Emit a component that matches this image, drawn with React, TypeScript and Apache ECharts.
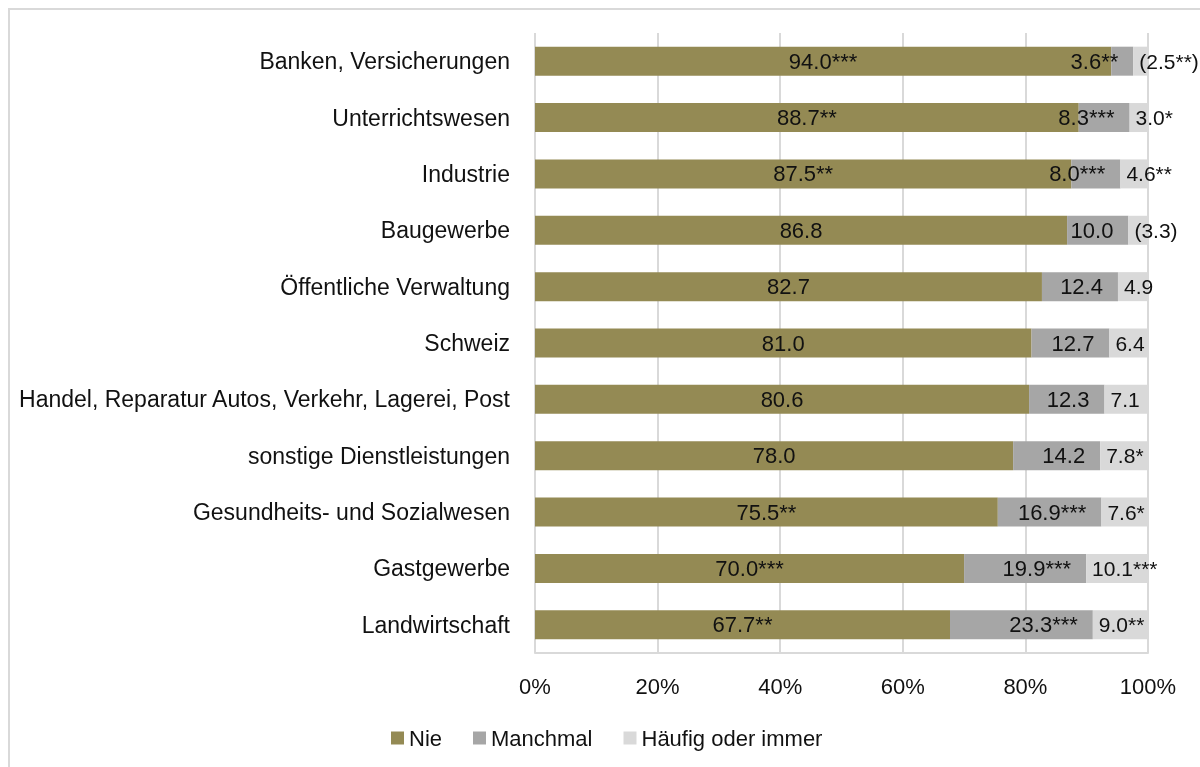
import React, { useEffect, useRef } from "react";
import * as echarts from "echarts";

const categories = [
  "Banken, Versicherungen",
  "Unterrichtswesen",
  "Industrie",
  "Baugewerbe",
  "Öffentliche Verwaltung",
  "Schweiz",
  "Handel, Reparatur Autos, Verkehr, Lagerei, Post",
  "sonstige Dienstleistungen",
  "Gesundheits- und Sozialwesen",
  "Gastgewerbe",
  "Landwirtschaft",
];

const nieValues = [94.0, 88.7, 87.5, 86.8, 82.7, 81.0, 80.6, 78.0, 75.5, 70.0, 67.7];
const manchmalValues = [3.6, 8.3, 8.0, 10.0, 12.4, 12.7, 12.3, 14.2, 16.9, 19.9, 23.3];
const haeufigValues = [2.5, 3.0, 4.6, 3.3, 4.9, 6.4, 7.1, 7.8, 7.6, 10.1, 9.0];

const nieLabels = ["94.0***", "88.7**", "87.5**", "86.8", "82.7", "81.0", "80.6", "78.0", "75.5**", "70.0***", "67.7**"];
const manchmalLabels = ["3.6**", "8.3***", "8.0***", "10.0", "12.4", "12.7", "12.3", "14.2", "16.9***", "19.9***", "23.3***"];
const haeufigLabels = ["(2.5**)", "3.0*", "4.6**", "(3.3)", "4.9", "6.4", "7.1", "7.8*", "7.6*", "10.1***", "9.0**"];

const tickValues = [0, 20, 40, 60, 80, 100];

const FONT = "'Liberation Sans', Arial, sans-serif";

export default function App() {
  const ref = useRef<HTMLDivElement>(null);

  useEffect(() => {
    if (!ref.current) return;
    const chart = echarts.init(ref.current, undefined, { renderer: "svg" });
    const labelStyle = {
      show: true,
      fontFamily: FONT,
      fontSize: 22,
      color: "#111",
    };
    chart.setOption({
      animation: false,
      textStyle: { fontFamily: FONT },
      legend: {
        data: ["Nie", "Manchmal", "Häufig oder immer"],
        left: 376,
        top: 712,
        itemWidth: 13,
        itemHeight: 13,
        itemGap: 31,
        icon: "rect",
        textStyle: { fontFamily: FONT, fontSize: 22, color: "#111" },
      },
      grid: { left: 525, right: 52, top: 23, bottom: 114, containLabel: false },
      xAxis: {
        type: "value",
        min: tickValues[0],
        max: tickValues[tickValues.length - 1],
        interval: 20,
        axisLine: { show: true, lineStyle: { color: "#d9d9d9", width: 2 } },
        axisTick: { show: false },
        splitLine: { show: true, lineStyle: { color: "#d9d9d9", width: 2 } },
        axisLabel: {
          formatter: (v: number) => `${v}%`,
          fontFamily: FONT,
          fontSize: 22,
          color: "#111",
          margin: 22,
        },
      },
      yAxis: {
        type: "category",
        data: categories,
        inverse: true,
        axisLine: { show: false },
        axisTick: { show: false },
        axisLabel: { fontFamily: FONT, fontSize: 23, color: "#111", margin: 25 },
      },
      series: [
        {
          name: "Nie",
          type: "bar",
          stack: "total",
          barWidth: 29,
          data: nieValues,
          itemStyle: { color: "#948A54" },
          label: { ...labelStyle, position: "inside", formatter: (p: any) => nieLabels[p.dataIndex] },
        },
        {
          name: "Manchmal",
          type: "bar",
          stack: "total",
          barWidth: 29,
          data: manchmalValues,
          itemStyle: { color: "#A6A6A6" },
          label: {
            ...labelStyle,
            position: "insideRight",
            distance: 15,
            formatter: (p: any) => manchmalLabels[p.dataIndex],
          },
        },
        {
          name: "Häufig oder immer",
          type: "bar",
          stack: "total",
          barWidth: 29,
          data: haeufigValues,
          itemStyle: { color: "#D9D9D9" },
          label: {
            ...labelStyle,
            fontSize: 21,
            position: "insideLeft",
            distance: 6,
            formatter: (p: any) => haeufigLabels[p.dataIndex],
          },
        },
      ],
    });
    return () => chart.dispose();
  }, []);

  return (
    <div
      style={{
        position: "fixed",
        left: 8,
        top: 8,
        width: 1192,
        height: 759,
        borderTop: "2px solid #d9d9d9",
        borderLeft: "2px solid #d9d9d9",
        boxSizing: "border-box",
        overflow: "visible",
      }}
    >
      <div ref={ref} style={{ width: 1190, height: 757 }} />
    </div>
  );
}
